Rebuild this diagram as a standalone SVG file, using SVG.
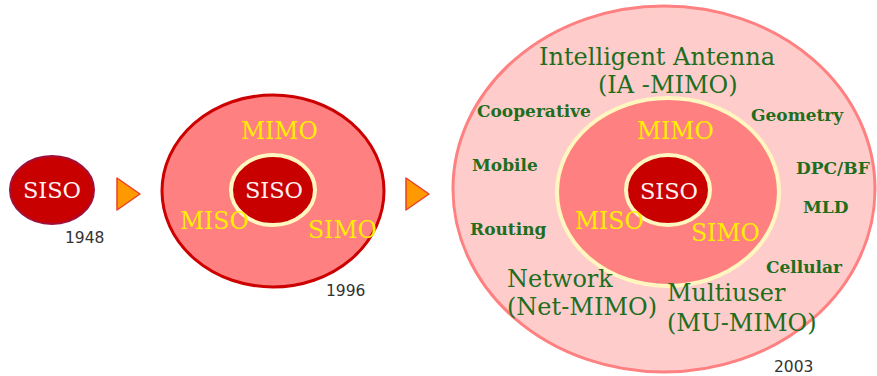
<svg xmlns="http://www.w3.org/2000/svg" width="877" height="376" viewBox="0 0 877 376">
  <style>
    .core { fill: #c80000; stroke: #fff6c0; stroke-width: 4; }
    .ring { fill: #ff8080; }
    .mode { font-family: "DejaVu Serif", serif; font-size: 23.5px; fill: #ffee00; }
    .siso { font-family: "DejaVu Serif", serif; font-size: 22.5px; fill: #fff0f0; }
    .year { font-family: "DejaVu Sans", sans-serif; font-size: 15.5px; fill: #333333; }
    .tech { font-family: "DejaVu Serif", serif; font-weight: bold; font-size: 17px; fill: #1e6e1e; }
    .big { font-family: "DejaVu Serif", serif; font-size: 24px; fill: #1e6e1e; }
    .step { fill: #ff9900; stroke: #e8402a; stroke-width: 1.5; stroke-linejoin: round; }
  </style>

  <!-- 1948: single link -->
  <g id="siso-1948">
    <ellipse cx="52" cy="190" rx="42" ry="34" fill="#c80000" stroke="#a0103c" stroke-width="2"/>
    <text class="siso" x="52" y="198" text-anchor="middle">SISO</text>
    <text class="year" x="65" y="243">1948</text>
  </g>

  <!-- 1996: multi-antenna -->
  <g id="mimo-1996">
    <ellipse class="ring" cx="273" cy="191" rx="111" ry="96" stroke="#cc0000" stroke-width="3"/>
    <ellipse class="core" cx="273" cy="190" rx="42" ry="35"/>
    <text class="siso" x="274" y="198" text-anchor="middle">SISO</text>
    <text class="mode" x="241" y="139">MIMO</text>
    <text class="mode" x="180" y="229">MISO</text>
    <text class="mode" x="308" y="238">SIMO</text>
    <text class="year" x="326" y="296">1996</text>
  </g>

  <!-- 2003: advanced MIMO -->
  <g id="mimo-2003">
    <ellipse cx="664" cy="189" rx="211" ry="183" fill="#ffcccc" stroke="#ff8080" stroke-width="3"/>
    <ellipse class="ring" cx="668" cy="192" rx="111" ry="94" stroke="#fff6c0" stroke-width="4"/>
    <ellipse class="core" cx="668" cy="190" rx="42" ry="35"/>
    <text class="siso" x="669" y="199" text-anchor="middle">SISO</text>
    <text class="mode" x="637" y="139">MIMO</text>
    <text class="mode" x="575" y="229">MISO</text>
    <text class="mode" x="691" y="241">SIMO</text>
    <text class="big" x="539" y="65">Intelligent Antenna</text>
    <text class="big" x="598" y="93">(IA -MIMO)</text>
    <text class="tech" x="477" y="117">Cooperative</text>
    <text class="tech" x="751" y="121">Geometry</text>
    <text class="tech" x="472" y="171">Mobile</text>
    <text class="tech" x="796" y="174">DPC/BF</text>
    <text class="tech" x="803" y="213">MLD</text>
    <text class="tech" x="470" y="235">Routing</text>
    <text class="tech" x="766" y="273">Cellular</text>
    <text class="big" x="507" y="287">Network</text>
    <text class="big" x="507" y="315">(Net-MIMO)</text>
    <text class="big" x="667" y="301">Multiuser</text>
    <text class="big" x="667" y="331">(MU-MIMO)</text>
    <text class="year" x="774" y="372">2003</text>
  </g>

  <!-- progression arrows -->
  <g id="connectors">
    <polygon class="step" points="117,178 140,194 117,210"/>
    <polygon class="step" points="406,178 429,194 406,210"/>
  </g>
</svg>
